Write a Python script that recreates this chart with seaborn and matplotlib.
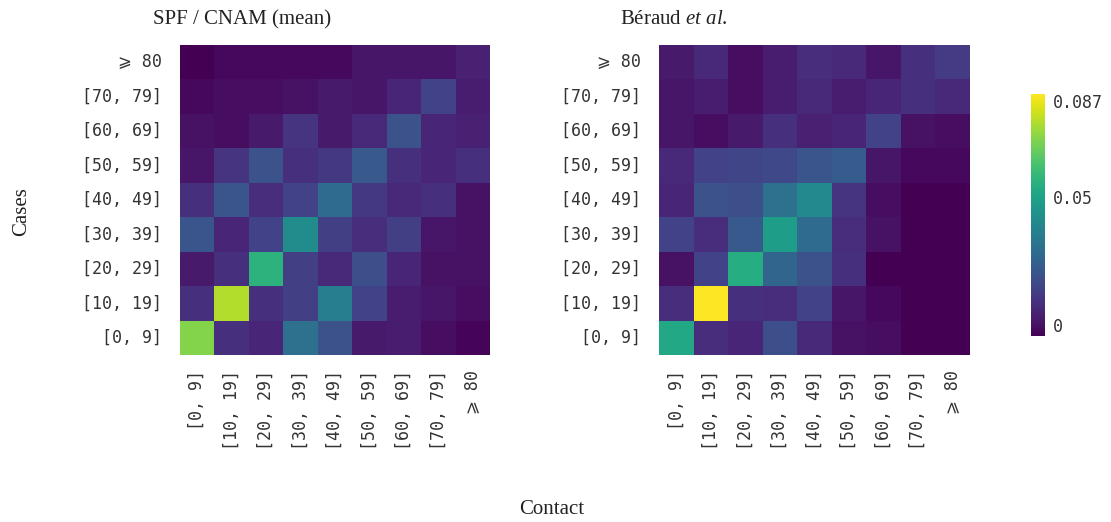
import numpy as np
import pandas as pd
import matplotlib
matplotlib.use('Agg')
import matplotlib.pyplot as plt
import seaborn as sns

age_groups = ['[0, 9]', '[10, 19]', '[20, 29]', '[30, 39]', '[40, 49]',
              '[50, 59]', '[60, 69]', '[70, 79]', '\u2a7e 80']
rows_top_down = age_groups[::-1]

# rows: >=80 (top) ... [0, 9] (bottom); columns: [0, 9] ... >=80
spf_cnam = [
    [0.000, 0.002, 0.002, 0.002, 0.002, 0.005, 0.005, 0.005, 0.008],
    [0.002, 0.003, 0.003, 0.004, 0.006, 0.005, 0.009, 0.017, 0.007],
    [0.004, 0.003, 0.006, 0.013, 0.006, 0.010, 0.022, 0.009, 0.008],
    [0.005, 0.013, 0.022, 0.012, 0.014, 0.024, 0.012, 0.009, 0.012],
    [0.012, 0.023, 0.011, 0.017, 0.030, 0.014, 0.010, 0.012, 0.004],
    [0.023, 0.009, 0.017, 0.042, 0.016, 0.011, 0.016, 0.005, 0.004],
    [0.006, 0.012, 0.056, 0.016, 0.010, 0.021, 0.009, 0.004, 0.004],
    [0.012, 0.077, 0.012, 0.016, 0.037, 0.017, 0.007, 0.005, 0.003],
    [0.071, 0.012, 0.009, 0.032, 0.022, 0.006, 0.007, 0.003, 0.001],
]

beraud = [
    [0.006, 0.010, 0.003, 0.007, 0.011, 0.010, 0.005, 0.012, 0.015],
    [0.005, 0.007, 0.003, 0.007, 0.010, 0.007, 0.009, 0.012, 0.010],
    [0.005, 0.003, 0.006, 0.012, 0.008, 0.009, 0.017, 0.004, 0.003],
    [0.010, 0.017, 0.018, 0.019, 0.023, 0.025, 0.005, 0.002, 0.002],
    [0.009, 0.022, 0.021, 0.032, 0.041, 0.013, 0.003, 0.000, 0.000],
    [0.017, 0.011, 0.024, 0.048, 0.030, 0.011, 0.004, 0.000, 0.000],
    [0.004, 0.017, 0.054, 0.028, 0.022, 0.012, 0.000, 0.000, 0.000],
    [0.011, 0.087, 0.012, 0.011, 0.017, 0.005, 0.002, 0.000, 0.000],
    [0.052, 0.011, 0.009, 0.021, 0.010, 0.004, 0.003, 0.000, 0.000],
]

vmax = 0.087
cbar_ticks = [0, 0.05, 0.087]
cbar_labels = ['0', '0.05', '0.087']

sns.set_style('white')
plt.rcParams['font.family'] = ['DejaVu Sans Mono', 'DejaVu Sans']
plt.rcParams['mathtext.fontset'] = 'custom'
plt.rcParams['mathtext.rm'] = 'Liberation Serif'
plt.rcParams['mathtext.it'] = 'Liberation Serif:italic'

W, H = 1111, 522
fig = plt.figure(figsize=(W / 100, H / 100), dpi=100)

def box(x0, y0, x1, y1):
    return [x0 / W, 1 - y1 / H, (x1 - x0) / W, (y1 - y0) / H]

ax1 = fig.add_axes(box(180, 45, 490, 355))
ax2 = fig.add_axes(box(659, 45, 970, 355))
cax = fig.add_axes(box(1031, 94, 1045, 336))

df1 = pd.DataFrame(spf_cnam, index=rows_top_down, columns=age_groups)
df2 = pd.DataFrame(beraud, index=rows_top_down, columns=age_groups)

sns.heatmap(df1, ax=ax1, cmap='viridis', vmin=0, vmax=vmax, cbar=False)
sns.heatmap(df2, ax=ax2, cmap='viridis', vmin=0, vmax=vmax, cbar_ax=cax,
            cbar_kws={'ticks': cbar_ticks})

for ax in (ax1, ax2):
    ax.set_xlabel('')
    ax.set_ylabel('')
    ax.tick_params(axis='both', length=0, labelsize=12, colors='#333333')
    ax.tick_params(axis='y', pad=13)
    ax.tick_params(axis='x', pad=11)
    ax.set_xticklabels(age_groups, rotation=90)
    ax.set_yticklabels(rows_top_down, rotation=0)

cax.set_yticklabels(cbar_labels)
cax.tick_params(length=0, labelsize=12, pad=6, colors='#333333')
cb_labels = cax.get_yticklabels()
cb_labels[0].set_va('bottom')
cb_labels[-1].set_va('top')
for s in cax.spines.values():
    s.set_visible(False)

serif = 'Liberation Serif'
fig.text(153 / W, 1 - 20 / H, 'SPF / CNAM (mean)', family=serif, fontsize=15,
         ha='left', va='center', color='#222222')
fig.text(620 / W, 1 - 20 / H, 'B\u00e9raud $\\mathit{et\\ al.}$', family=serif,
         fontsize=15, ha='left', va='center', color='#222222')
fig.text(22 / W, 1 - 212 / H, 'Cases', family=serif, fontsize=15,
         rotation=90, ha='center', va='center', color='#222222')
fig.text(552 / W, 1 - 510 / H, 'Contact', family=serif, fontsize=15,
         ha='center', va='center', color='#222222')

fig.savefig('out.png', dpi=100)
